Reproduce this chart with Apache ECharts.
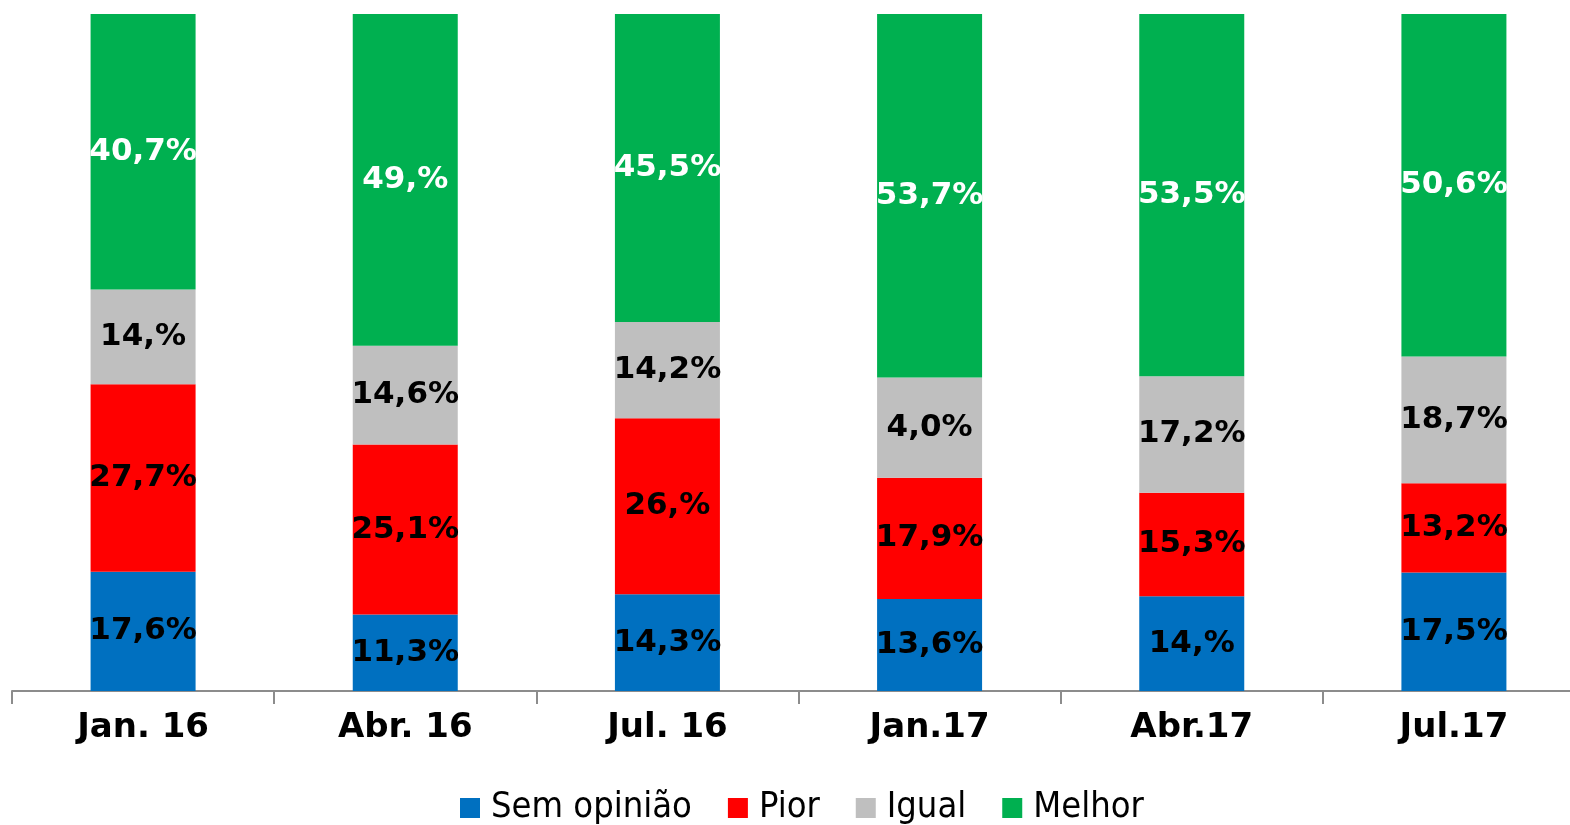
<!DOCTYPE html>
<html>
<head>
<meta charset="utf-8">
<script src="https://cdn.jsdelivr.net/npm/echarts@6/dist/echarts.min.js"></script>
<style>
    html, body { margin: 0; padding: 0; background: #fff; overflow: hidden; }
    /* o eixo do original passa da borda direita, por isso o div é mais largo */
    #charts { width: 1585px; height: 825px; }
</style>
</head>
<body>
<div id="charts"></div>
<script>
    // categorias e valores (% por período)
    var categories = ['Jan. 16', 'Abr. 16', 'Jul. 16', 'Jan.17', 'Abr.17', 'Jul.17'];
    var semOpiniao = [17.6, 11.3, 14.3, 13.6, 14.0, 17.5];
    var pior = [27.7, 25.1, 26.0, 17.9, 15.3, 13.2];
    var igual = [14.0, 14.6, 14.2, 14.8, 17.2, 18.7];
    var melhor = [40.7, 49.0, 45.5, 53.7, 53.5, 50.6];

    // textos como aparecem no gráfico original
    var semOpiniaoLabels = ['17,6%', '11,3%', '14,3%', '13,6%', '14,%', '17,5%'];
    var piorLabels = ['27,7%', '25,1%', '26,%', '17,9%', '15,3%', '13,2%'];
    var igualLabels = ['14,%', '14,6%', '14,2%', '4,0%', '17,2%', '18,7%'];
    var melhorLabels = ['40,7%', '49,%', '45,5%', '53,7%', '53,5%', '50,6%'];

    function makeSeries(name, data, labels, color, textColor) {
        return {
            name: name,
            type: 'bar',
            stack: 'total',
            barWidth: 105,
            itemStyle: { color: color },
            label: {
                show: true,
                position: 'inside',
                color: textColor,
                fontFamily: 'DejaVu Sans',
                fontWeight: 'bold',
                fontSize: 31,
                formatter: function (p) { return labels[p.dataIndex]; }
            },
            data: data
        };
    }

    var myCharts = echarts.init(document.getElementById('charts'));
    myCharts.setOption({
        animation: false,
        grid: { left: 12, right: 0, top: 14, bottom: 134, containLabel: false },
        legend: {
            top: 785,
            left: 455,
            icon: 'rect',
            itemWidth: 20,
            itemHeight: 20,
            itemGap: 36,
            textStyle: {
                fontFamily: 'DejaVu Sans Condensed',
                fontSize: 36,
                lineHeight: 36,
                color: '#000',
                padding: [0, 0, 0, 6]
            },
            data: ['Sem opinião', 'Pior', 'Igual', 'Melhor']
        },
        xAxis: {
            type: 'category',
            data: categories,
            axisLine: { lineStyle: { color: '#8c8c8c', width: 2 } },
            axisTick: { show: true, length: 13, lineStyle: { color: '#8c8c8c', width: 2 } },
            axisLabel: {
                margin: 20,
                color: '#000',
                fontFamily: 'DejaVu Sans',
                fontWeight: 'bold',
                fontSize: 34
            }
        },
        yAxis: {
            type: 'value',
            min: 0,
            max: 100,
            show: false,
            splitLine: { show: false }
        },
        series: [
            makeSeries('Sem opinião', semOpiniao, semOpiniaoLabels, '#0070C0', '#000'),
            makeSeries('Pior', pior, piorLabels, '#FF0000', '#000'),
            makeSeries('Igual', igual, igualLabels, '#BFBFBF', '#000'),
            makeSeries('Melhor', melhor, melhorLabels, '#00B050', '#fff')
        ]
    });
</script>
</body>
</html>
